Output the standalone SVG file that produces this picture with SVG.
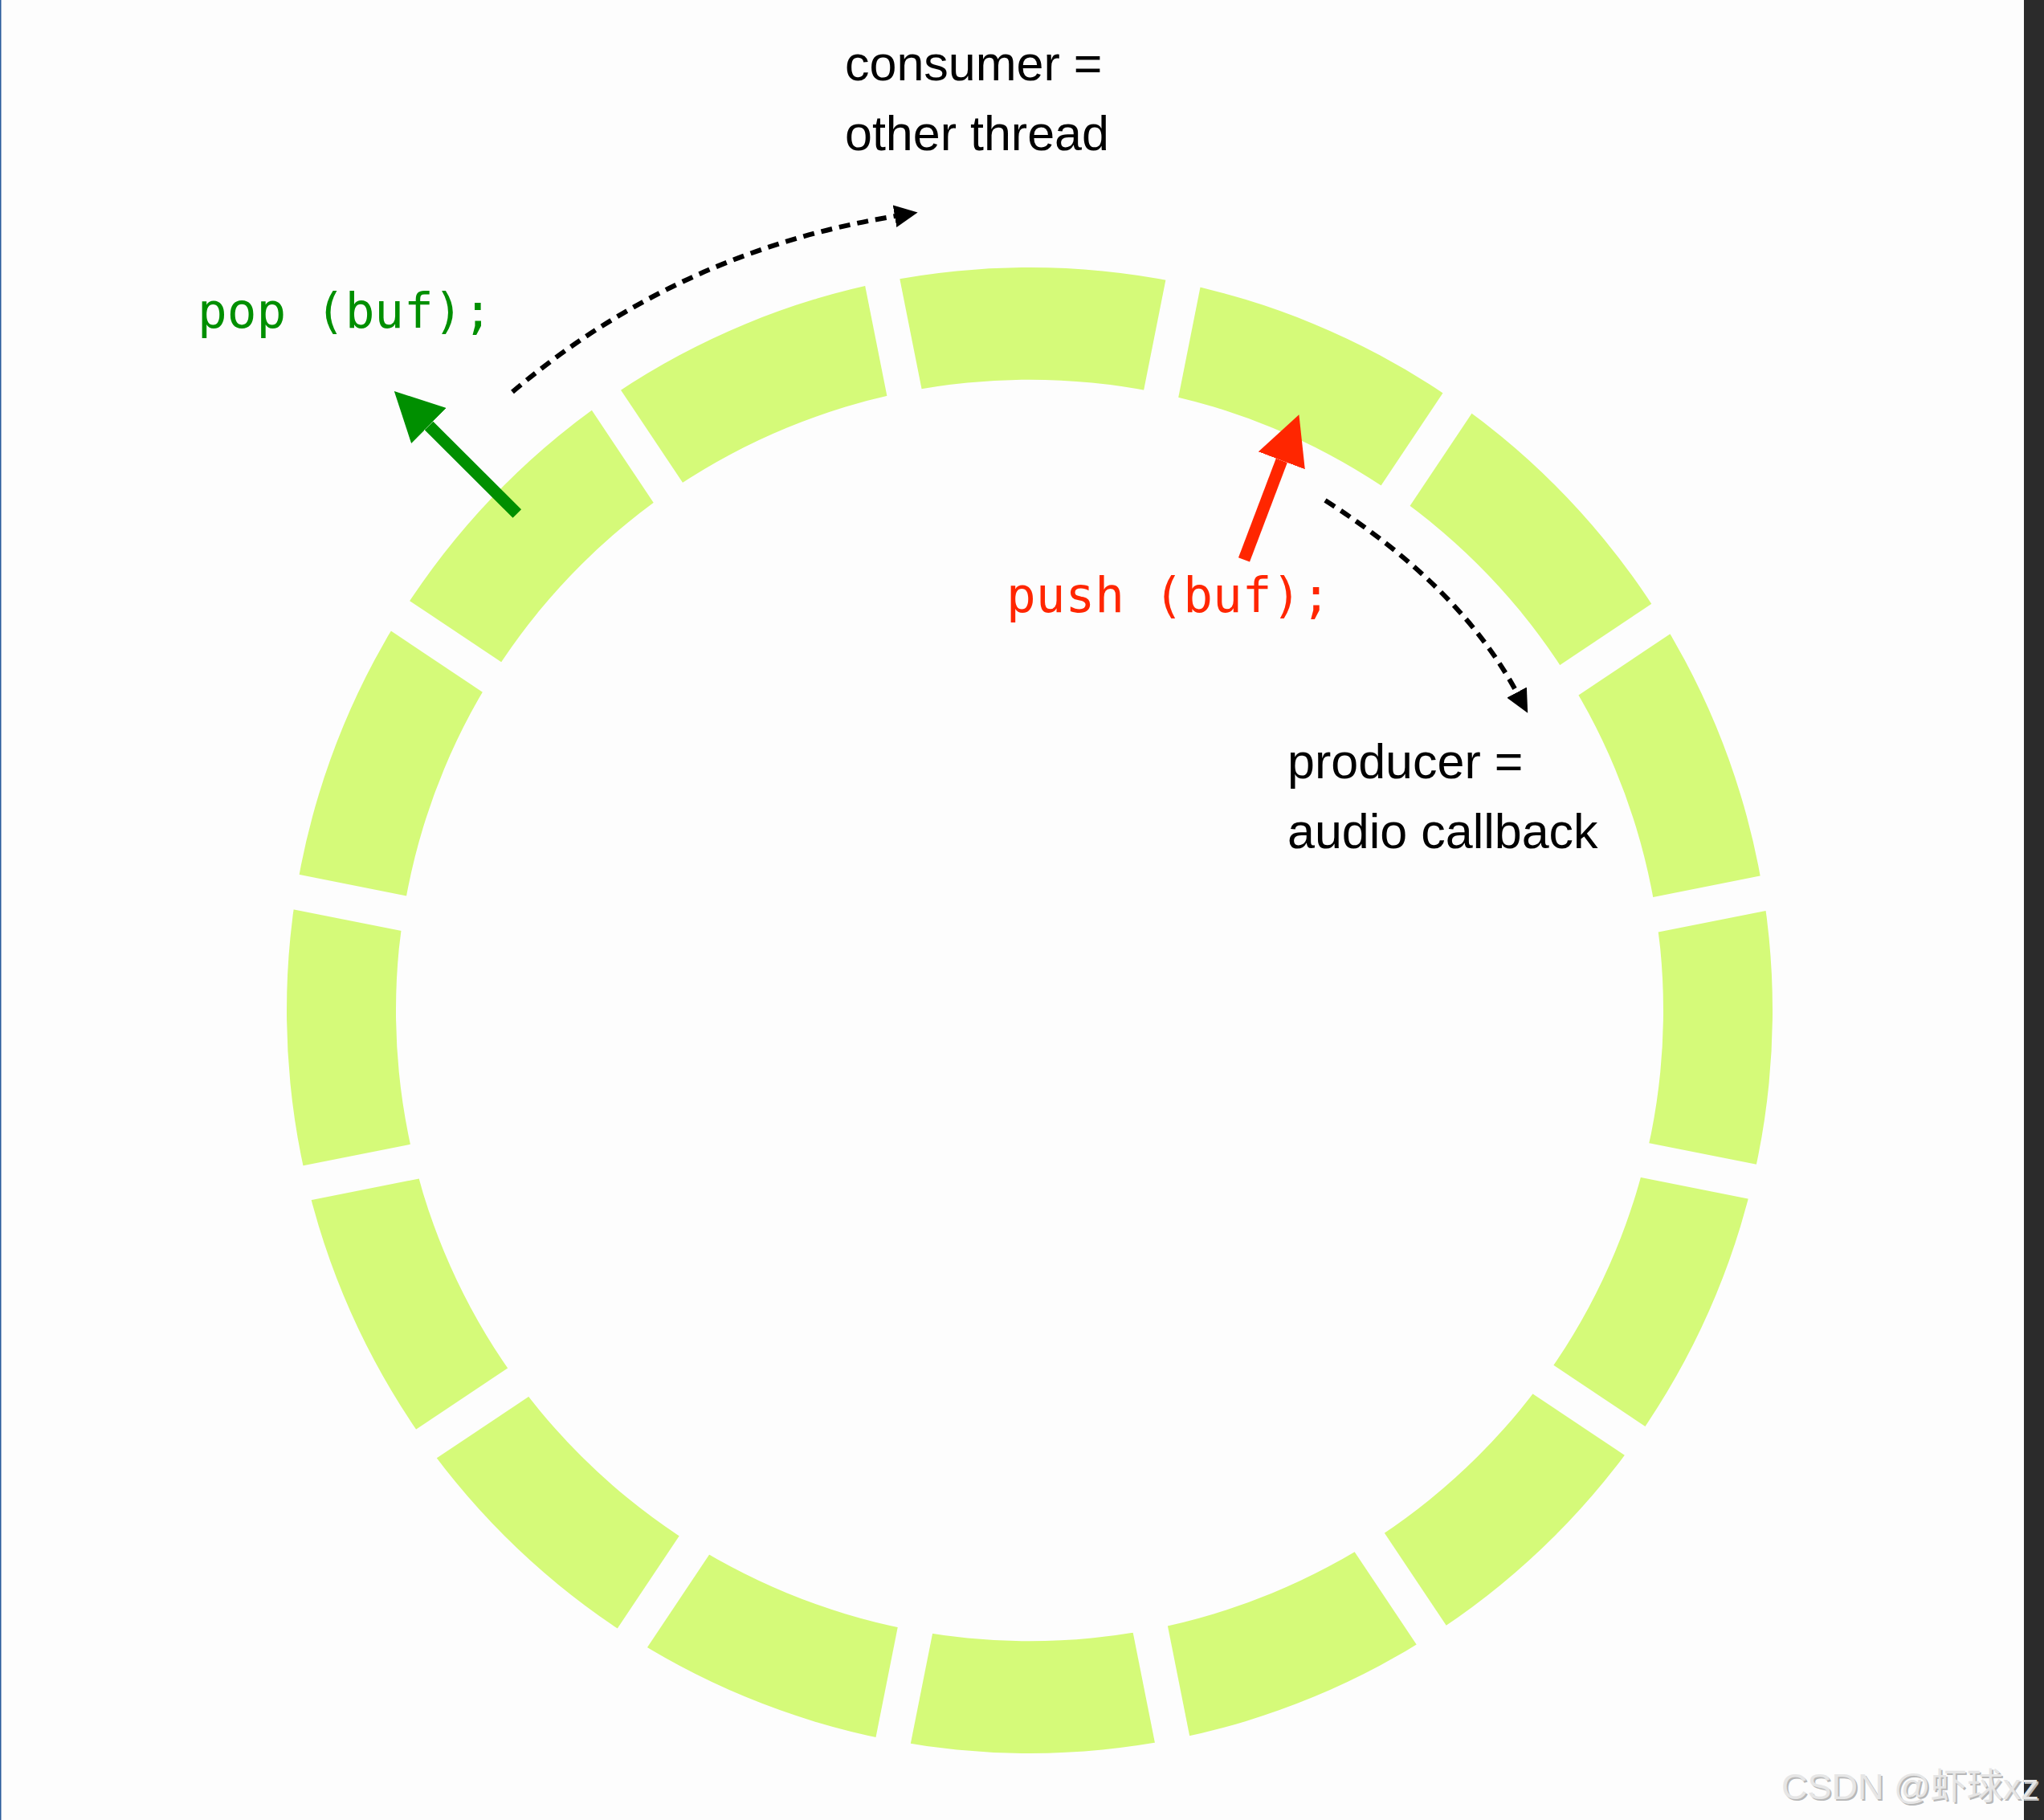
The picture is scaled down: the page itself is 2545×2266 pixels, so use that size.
<svg xmlns="http://www.w3.org/2000/svg" xmlns:xlink="http://www.w3.org/1999/xlink" width="2545" height="2266" viewBox="0 0 2545 2266">
  <style>
    .seg { fill: #D5FA79; fill-rule: evenodd; }
    .label { font-family: "Liberation Sans", Arial, sans-serif; font-size: 61px; fill: #000000; }
    .code { font-family: "DejaVu Sans Mono", Menlo, monospace; font-size: 61px; }
    .dash { fill: none; stroke: #000000; stroke-width: 6; stroke-dasharray: 14 9; marker-end: url(#head-black); }
    .wm { font-family: "Liberation Sans", "Noto Sans CJK SC", sans-serif; font-size: 45px; }
  </style>
  <defs>
    <path id="annulus" d="M357,1258 A925,925 0 1,1 2207,1258 A925,925 0 1,1 357,1258 Z M493,1258 A789,785 0 1,0 2071,1258 A789,785 0 1,0 493,1258 Z"/>
    <polygon id="wedge" points="1286,1180.2 1012.9,-192.9 1559.1,-192.9"/>
    <clipPath id="w0" clipPathUnits="userSpaceOnUse"><use xlink:href="#wedge" transform="rotate(0 1286 1293)"/></clipPath>
    <clipPath id="w1" clipPathUnits="userSpaceOnUse"><use xlink:href="#wedge" transform="rotate(22.5 1286 1293)"/></clipPath>
    <clipPath id="w2" clipPathUnits="userSpaceOnUse"><use xlink:href="#wedge" transform="rotate(45 1286 1293)"/></clipPath>
    <clipPath id="w3" clipPathUnits="userSpaceOnUse"><use xlink:href="#wedge" transform="rotate(67.5 1286 1293)"/></clipPath>
    <clipPath id="w4" clipPathUnits="userSpaceOnUse"><use xlink:href="#wedge" transform="rotate(90 1286 1293)"/></clipPath>
    <clipPath id="w5" clipPathUnits="userSpaceOnUse"><use xlink:href="#wedge" transform="rotate(112.5 1286 1293)"/></clipPath>
    <clipPath id="w6" clipPathUnits="userSpaceOnUse"><use xlink:href="#wedge" transform="rotate(135 1286 1293)"/></clipPath>
    <clipPath id="w7" clipPathUnits="userSpaceOnUse"><use xlink:href="#wedge" transform="rotate(157.5 1286 1293)"/></clipPath>
    <clipPath id="w8" clipPathUnits="userSpaceOnUse"><use xlink:href="#wedge" transform="rotate(180 1286 1293)"/></clipPath>
    <clipPath id="w9" clipPathUnits="userSpaceOnUse"><use xlink:href="#wedge" transform="rotate(202.5 1286 1293)"/></clipPath>
    <clipPath id="w10" clipPathUnits="userSpaceOnUse"><use xlink:href="#wedge" transform="rotate(225 1286 1293)"/></clipPath>
    <clipPath id="w11" clipPathUnits="userSpaceOnUse"><use xlink:href="#wedge" transform="rotate(247.5 1286 1293)"/></clipPath>
    <clipPath id="w12" clipPathUnits="userSpaceOnUse"><use xlink:href="#wedge" transform="rotate(270 1286 1293)"/></clipPath>
    <clipPath id="w13" clipPathUnits="userSpaceOnUse"><use xlink:href="#wedge" transform="rotate(292.5 1286 1293)"/></clipPath>
    <clipPath id="w14" clipPathUnits="userSpaceOnUse"><use xlink:href="#wedge" transform="rotate(315 1286 1293)"/></clipPath>
    <clipPath id="w15" clipPathUnits="userSpaceOnUse"><use xlink:href="#wedge" transform="rotate(337.5 1286 1293)"/></clipPath>
    <marker id="head-black" markerUnits="userSpaceOnUse" viewBox="0 0 29 28" markerWidth="29" markerHeight="28" refX="1" refY="14" orient="auto">
      <path d="M0,0 L29,14 L0,28 Z" fill="#000000"/>
    </marker>
    <marker id="head-green" markerUnits="userSpaceOnUse" viewBox="0 0 61 62" markerWidth="61" markerHeight="62" refX="0" refY="31" orient="auto">
      <path d="M0,0 L61,31 L0,62 Z" fill="#008F00"/>
    </marker>
    <marker id="head-red" markerUnits="userSpaceOnUse" viewBox="0 0 61 62" markerWidth="61" markerHeight="62" refX="0" refY="31" orient="auto">
      <path d="M0,0 L61,31 L0,62 Z" fill="#FF2600"/>
    </marker>
  </defs>

  <rect x="0" y="0" width="2545" height="2266" fill="#FDFDFD"/>
  <rect x="0" y="0" width="1.5" height="2266" fill="#2A5B9C"/>
  <rect x="2520" y="0" width="25" height="2266" fill="#2B2B2B"/>

  <g id="ring-buffer">
    <g id="slot-0"><use xlink:href="#annulus" class="seg" clip-path="url(#w0)"/></g>
    <g id="slot-1"><use xlink:href="#annulus" class="seg" clip-path="url(#w1)"/></g>
    <g id="slot-2"><use xlink:href="#annulus" class="seg" clip-path="url(#w2)"/></g>
    <g id="slot-3"><use xlink:href="#annulus" class="seg" clip-path="url(#w3)"/></g>
    <g id="slot-4"><use xlink:href="#annulus" class="seg" clip-path="url(#w4)"/></g>
    <g id="slot-5"><use xlink:href="#annulus" class="seg" clip-path="url(#w5)"/></g>
    <g id="slot-6"><use xlink:href="#annulus" class="seg" clip-path="url(#w6)"/></g>
    <g id="slot-7"><use xlink:href="#annulus" class="seg" clip-path="url(#w7)"/></g>
    <g id="slot-8"><use xlink:href="#annulus" class="seg" clip-path="url(#w8)"/></g>
    <g id="slot-9"><use xlink:href="#annulus" class="seg" clip-path="url(#w9)"/></g>
    <g id="slot-10"><use xlink:href="#annulus" class="seg" clip-path="url(#w10)"/></g>
    <g id="slot-11"><use xlink:href="#annulus" class="seg" clip-path="url(#w11)"/></g>
    <g id="slot-12"><use xlink:href="#annulus" class="seg" clip-path="url(#w12)"/></g>
    <g id="slot-13"><use xlink:href="#annulus" class="seg" clip-path="url(#w13)"/></g>
    <g id="slot-14"><use xlink:href="#annulus" class="seg" clip-path="url(#w14)"/></g>
    <g id="slot-15"><use xlink:href="#annulus" class="seg" clip-path="url(#w15)"/></g>
  </g>

  <g id="consumer-label">
    <text class="label" x="1052" y="100">consumer =</text>
    <text class="label" x="1052" y="187">other thread</text>
  </g>
  <g id="producer-label">
    <text class="label" x="1603" y="969">producer =</text>
    <text class="label" x="1603" y="1056">audio callback</text>
  </g>
  <g id="pop-label">
    <text class="code" x="246" y="408" fill="#008F00">pop (buf);</text>
  </g>
  <g id="push-label">
    <text class="code" x="1253" y="762" fill="#FF2600">push (buf);</text>
  </g>

  <g id="connectors">
    <path class="dash" d="M638,488 Q843.5,313.5 1115,269"/>
    <path class="dash" d="M1650,623 Q1818.5,731 1889,863"/>
    <path d="M643.8,639.5 L534,530" fill="none" stroke="#008F00" stroke-width="15" marker-end="url(#head-green)"/>
    <path d="M1549,696.8 L1595.8,573.3" fill="none" stroke="#FF2600" stroke-width="15" marker-end="url(#head-red)"/>
  </g>

  <g id="watermark">
    <text class="wm" x="2220" y="2242" fill="#B8B8B8">CSDN @虾球xz</text>
    <text class="wm" x="2218" y="2240" fill="#E6E6E6">CSDN @虾球xz</text>
  </g>
</svg>
